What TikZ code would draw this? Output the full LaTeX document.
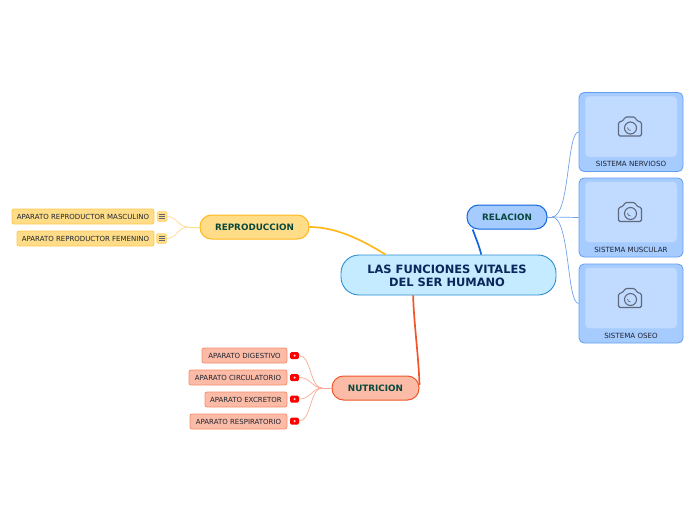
\documentclass[tikz,border=0pt]{standalone}
\usepackage{fontspec}
\setmainfont{DejaVu Sans}
\usetikzlibrary{calc}
\definecolor{central}{RGB}{196,235,255}
\definecolor{centraledge}{RGB}{44,140,210}
\definecolor{azul}{RGB}{166,203,255}
\definecolor{azuledge}{RGB}{17,102,221}
\definecolor{azulsoft}{RGB}{192,219,255}
\definecolor{amarillo}{RGB}{255,221,136}
\definecolor{amarilloedge}{RGB}{255,184,28}
\definecolor{salmon}{RGB}{251,187,166}
\definecolor{salmonedge}{RGB}{240,86,42}
\definecolor{titulo}{RGB}{10,38,90}
\definecolor{rama}{RGB}{8,72,60}
\definecolor{hoja}{RGB}{30,36,48}
\definecolor{icono}{RGB}{95,105,125}

\begin{document}
\begin{tikzpicture}[
    x=1pt, y=-1pt,
    centro/.style={rectangle, rounded corners=18pt, minimum width=215pt, minimum height=40pt, draw=centraledge, fill=central, line width=0.9pt, inner sep=0pt, align=center, text=titulo, font=\fontsize{11.45}{13.2}\selectfont\bfseries},
    branch/.style={rectangle, rounded corners=11.5pt, minimum height=24pt, line width=1pt, inner sep=0pt, text=rama, font=\fontsize{8.8}{10}\selectfont\bfseries},
    leaf/.style={rectangle, rounded corners=2pt, minimum height=15pt, line width=0.8pt, inner sep=0pt, text=hoja, font=\fontsize{7}{8}\selectfont},
    leafy/.style={leaf, fill=amarillo, draw=amarilloedge!55!amarillo},
    leafs/.style={leaf, fill=salmon, draw=salmonedge!45!salmon},
    card/.style={rectangle, rounded corners=5pt, minimum width=104pt, minimum height=79pt, fill=azul, draw=azuledge!45!azul, line width=0.8pt, inner sep=0pt},
    panel/.style={rectangle, rounded corners=4pt, minimum width=92pt, minimum height=61pt, fill=azulsoft, draw=azul!80!azulsoft, line width=0.5pt, inner sep=0pt},
    caption/.style={inner sep=0pt, text=hoja, font=\fontsize{7.1}{8}\selectfont},
    noteicon/.style={rectangle, rounded corners=1.5pt, minimum width=10pt, minimum height=10pt, inner sep=0pt, fill=amarillo, draw=amarilloedge!30!amarillo, line width=0.5pt, path picture={
        \draw[line width=0.7pt, hoja!70] ($(path picture bounding box.center)+(-3,-2.2)$) -- +(6,0);
        \draw[line width=0.7pt, hoja!70] ($(path picture bounding box.center)+(-3,0)$) -- +(6,0);
        \draw[line width=0.7pt, hoja!70] ($(path picture bounding box.center)+(-3,2.2)$) -- +(6,0);}},
    redicon/.style={rectangle, rounded corners=1.5pt, minimum width=9pt, minimum height=7pt, inner sep=0pt, fill=red, path picture={
        \fill[white] ($(path picture bounding box.center)+(-1,-1)$) rectangle +(2,2);}},
    thick yellow/.style={draw=amarilloedge, line width=1.7pt},
    thick blue/.style={draw=azuledge, line width=1.7pt},
    thick salmon/.style={draw=salmonedge, line width=1.7pt},
    twigb/.style={draw=azuledge!60!white, line width=0.7pt},
    twigy/.style={draw=amarilloedge!50!white, line width=0.7pt},
    twigs/.style={draw=salmonedge!50!white, line width=0.7pt},
    camera/.pic={
        \draw[icono, line width=1.1pt, rounded corners=1.5pt] (-11.5,9) -- (-11.5,-5) -- (-7,-6) -- (-5,-10) -- (5,-10) -- (7,-6) -- (11.5,-5) -- (11.5,9) -- cycle;
        \draw[icono, line width=1.1pt] (0.5,1) circle (6);
        \draw[icono, line width=0.7pt] (-2.5,0.5) arc (180:90:3);
    },
]
\useasboundingbox (0,0) rectangle (696,520);

\node[centro] (funciones) at (448.5,275) {\rule{0pt}{10.4pt}LAS FUNCIONES VITALES\kern3pt\\DEL SER HUMANO\kern3pt};

\node[branch, fill=azul, draw=azuledge, minimum width=80pt]                (relacion)     at (507,217)   {RELACION};
\node[branch, fill=amarillo, draw=amarilloedge, minimum width=109pt]       (reproduccion) at (254.5,227) {REPRODUCCION};
\node[branch, fill=salmon, draw=salmonedge, minimum width=87pt]            (nutricion)    at (375.5,388) {NUTRICION};

% sistemas
\node[card]  (nervioso)  at (631,132)   {};
\node[panel] (panelA)    at (631,126.5) {};
\node[caption] (capA)    at (631,164) {SISTEMA NERVIOSO};
\pic at (630,127) {camera};
\node[card]  (muscular)  at (631,217.5) {};
\node[panel] (panelB)    at (631,212)   {};
\node[caption] (capB)    at (631,250) {SISTEMA MUSCULAR};
\pic at (630,212.5) {camera};
\node[card]  (oseo)      at (631,303.5) {};
\node[panel] (panelC)    at (631,298)   {};
\node[caption] (capC)    at (631,336) {SISTEMA OSEO};
\pic at (630,298.5) {camera};

% reproduccion
\node[leafy, minimum width=142pt] (masculino) at (83,216.5)  {APARATO REPRODUCTOR MASCULINO};
\node[leafy, minimum width=137pt] (femenino)  at (85.5,238.5) {APARATO REPRODUCTOR FEMENINO};
\node[noteicon] (notaA) at (162,216.5) {};
\node[noteicon] (notaB) at (161.5,238.5) {};

% nutricion
\node[leafs, minimum width=85pt] (digestivo)    at (244.5,355.5) {APARATO DIGESTIVO};
\node[leafs, minimum width=98pt] (circulatorio) at (238,377.5)   {APARATO CIRCULATORIO};
\node[leafs, minimum width=82pt] (excretor)     at (246,399.5)   {APARATO EXCRETOR};
\node[leafs, minimum width=97pt] (respiratorio) at (238.5,421.5) {APARATO RESPIRATORIO};
\node[redicon] (videoA) at (294.5,355.5) {};
\node[redicon] (videoB) at (294.5,377.5) {};
\node[redicon] (videoC) at (294.5,399) {};
\node[redicon] (videoD) at (294.5,421) {};

\coordinate (juntaR) at (188,227);
\coordinate (juntaN) at (322,388);
\coordinate (juntaB) at (552,217);

% ramas
\draw[thick blue] (funciones.32.4) .. controls +(-1.5,-7) and +(3,8) .. (relacion.200);
\draw[thick yellow] (reproduccion.east) .. controls +(30,0) and +(-18,-11) .. (funciones.162.5);
\draw[thick salmon] (funciones.210) .. controls +(1,30) and +(-1,-30) .. (nutricion.4);

\draw[twigb] (relacion.east) -- (juntaB);
\draw[twigb] (juntaB) .. controls +(18,0) and +(-12,0) .. (nervioso.west);
\draw[twigb] (juntaB) -- (muscular.west);
\draw[twigb] (juntaB) .. controls +(18,0) and +(-12,0) .. (oseo.west);

\draw[twigy] (reproduccion.west) -- (juntaR);
\draw[twigy] (juntaR) .. controls +(-10,0) and +(10,0) .. (notaA.east);
\draw[twigy] (juntaR) .. controls +(-10,0) and +(10,0) .. (notaB.east);

\draw[twigs] (nutricion.west) -- (juntaN);
\draw[twigs] (juntaN) .. controls +(-12,0) and +(12,0) .. (videoA.east);
\draw[twigs] (juntaN) .. controls +(-10,0) and +(12,0) .. (videoB.east);
\draw[twigs] (juntaN) .. controls +(-10,0) and +(12,0) .. (videoC.east);
\draw[twigs] (juntaN) .. controls +(-12,0) and +(12,0) .. (videoD.east);
\end{tikzpicture}
\end{document}
